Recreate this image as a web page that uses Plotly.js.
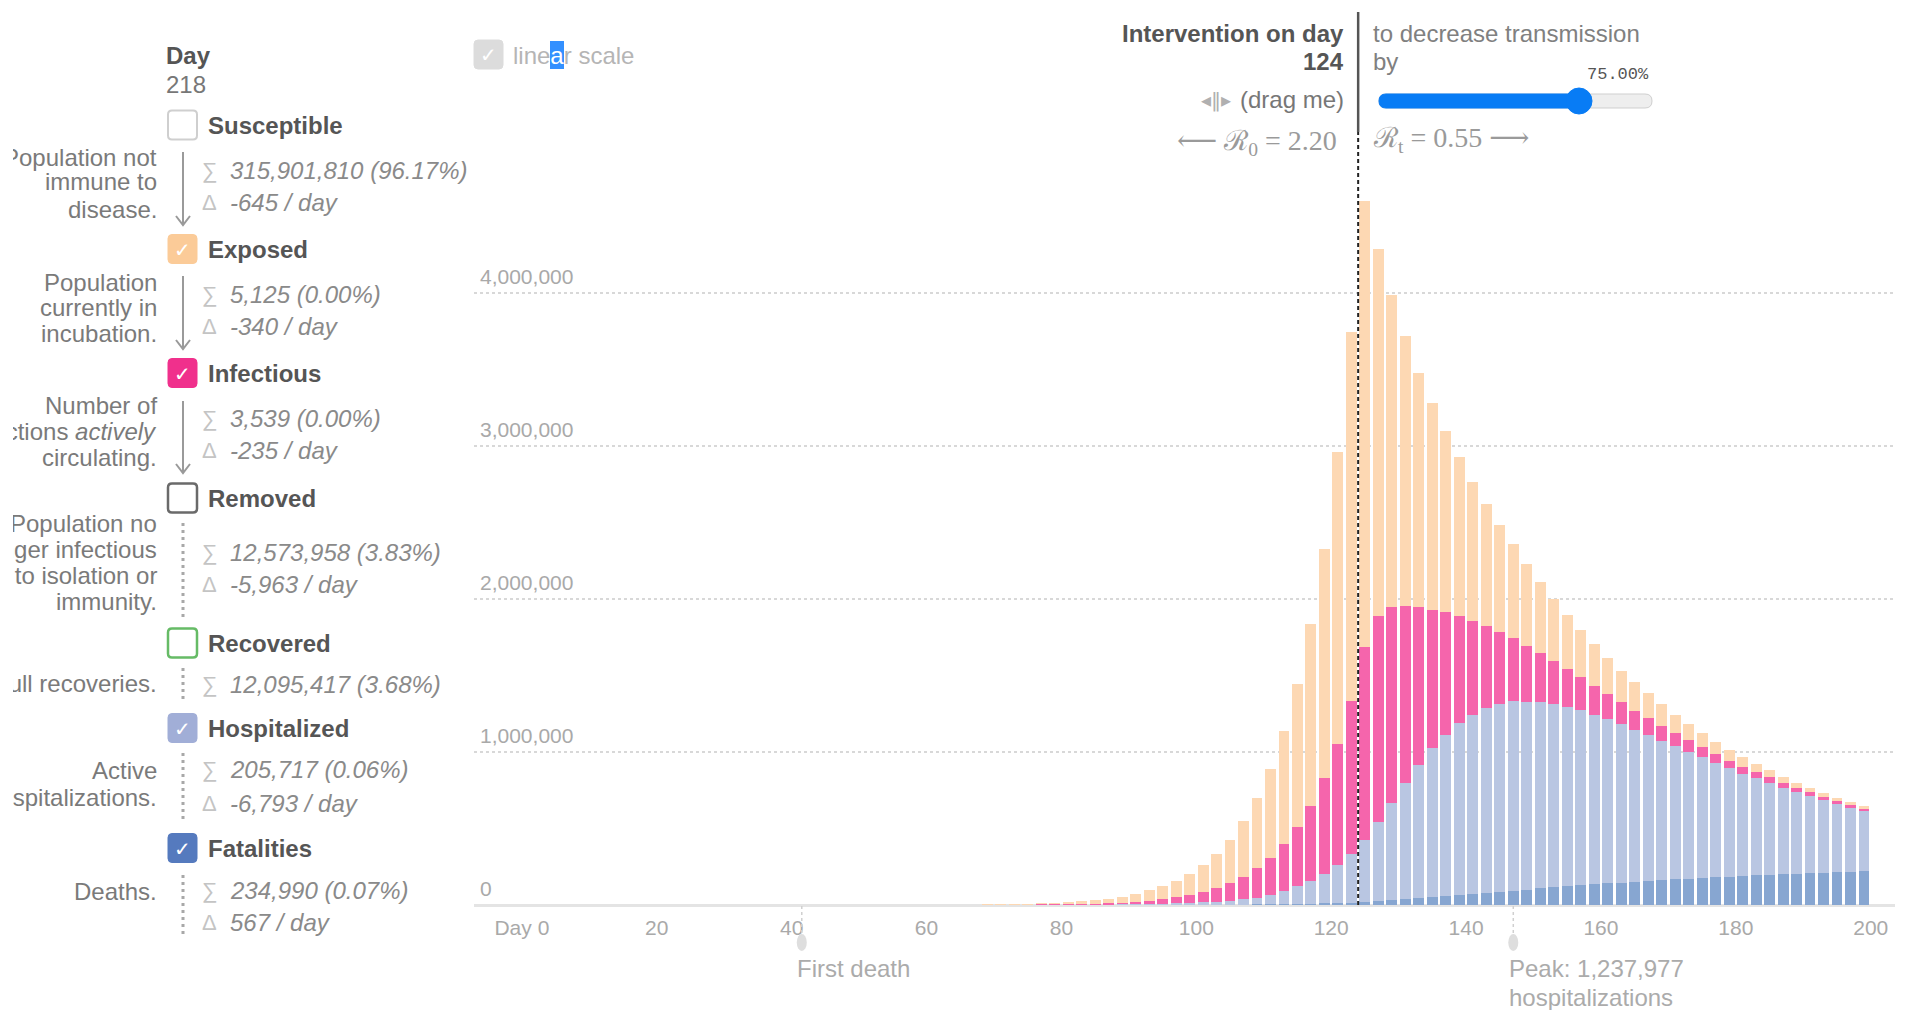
<!DOCTYPE html>
<html><head><meta charset="utf-8">
<script src="https://cdn.plot.ly/plotly-3.0.1.min.js"></script>
<style>
html,body{margin:0;padding:0;background:#fff;overflow:hidden;}
#chart{position:absolute;left:0;top:0;width:1905px;height:1010px;}
#edge{position:absolute;left:0;top:0;width:13px;height:1010px;background:#fff;pointer-events:none;}
</style></head><body>
<div id="chart"></div><div id="edge"></div>
<script>
// ---------------- data ----------------
const days = [1,3,5,7,9,11,13,15,17,19,21,23,25,27,29,31,33,35,37,39,41,43,45,47,49,51,53,55,57,59,61,63,
  65,67,69,71,73,75,77,79,81,83,85,87,89,91,93,95,97,99,101,103,105,107,109,111,113,115,117,119,121,123,
  125,127,129,131,133,135,137,139,141,143,145,147,149,151,153,155,157,159,161,163,165,167,169,171,173,175,
  177,179,181,183,185,187,189,191,193,195,197,199];

const exposed = [1,1,1,1,1,1,2,2,3,4,5,6,8,11,14,18,23,30,39,50,65,85,110,143,185,240,315,410,530,690,900,1160,
  1510,1960,2550,3300,4300,5600,7200,9400,12200,15800,
  20500,27500,37000,51000,66000,85000,107000,138000,175000,223000,281000,362000,458000,582000,742000,938000,1190000,1500000,1908000,2410000,
  2914000,2393000,2039000,1765000,1534000,1349000,1180000,1034000,908000,798000,698000,613000,536000,465000,407000,353000,310000,273000,
  238000,207000,184000,164000,139000,119000,106000,93000,82000,71000,61000,54000,47000,41000,35000,30000,26000,22000,19000,16000];

const infectious = [1,1,1,1,1,1,1,1,1,2,2,2,3,4,5,7,9,11,15,19,25,32,42,54,70,92,120,155,200,260,340,440,
  570,740,960,1250,1600,2100,2700,3500,4600,6200,
  7300,9600,12300,16200,22800,30000,40500,52500,68500,89000,118000,148000,191000,240000,306000,384000,489000,625000,789000,998000,
  1260000,1349000,1279000,1158000,1030000,907000,803000,704000,614000,537000,472000,415000,366000,318000,279000,246000,214000,191000,
  163000,143000,124000,109000,99000,86000,76000,65000,56000,50000,45000,40000,35000,31000,27000,24000,21000,19000,17000,15000];

const hospitalized = [0,0,0,0,0,0,0,0,0,0,0,0,0,1,1,1,2,2,3,4,5,7,9,12,16,21,27,35,45,59,77,100,
  130,170,220,285,370,480,620,800,1050,1400,
  1900,2600,3400,4400,5700,7300,9500,12300,15800,20500,26500,34500,45000,62000,85000,118000,150000,193000,250000,320000,
  407000,518000,636000,760000,872000,973000,1055000,1123000,1173000,1208000,1227000,1237977,1228000,1219000,1199000,1175000,1145000,1107000,
  1073000,1035000,994000,952000,911000,869000,827000,787000,747000,708000,669000,633000,601000,565000,534000,505000,476000,445000,420000,394000];

const fatalities = [0,0,0,0,0,0,0,0,0,0,0,0,0,0,0,0,0,0,0,0,1,1,2,2,3,4,5,6,8,10,13,16,
  20,26,33,42,53,67,85,108,137,172,
  215,270,340,430,540,680,860,1080,1360,1710,2150,2700,3400,4250,5300,6600,8200,10100,12400,15200,
  19000,25000,31000,37000,44000,51000,58000,65000,72000,80000,87000,94000,101000,108000,115000,122000,128000,135000,
  141000,147000,153000,158000,163000,168000,173000,178000,182000,186000,190000,194000,198000,201000,204000,207000,210000,213000,216000,219000];

const xTickVals = [0,20,40,60,80,100,120,140,160,180,200];
const xTickText = ['Day 0','20','40','60','80','100','120','140','160','180','200'];
const yTickVals = [0,1000000,2000000,3000000,4000000];
const yTickText = ['0','1,000,000','2,000,000','3,000,000','4,000,000'];

const interventionDay = 124;
const firstDeathDay = 41.5;
const peakDay = 147;
const peakHosp = 1237977;
const shownDay = 218;
const R0 = '2.20', Rt = '0.55', decreasePct = '75.00%';

const compNames = ['Susceptible','Exposed','Infectious','Removed','Recovered','Hospitalized','Fatalities'];
const compChecked = [false,true,true,false,false,true,true];
const compDesc = [['Population not','immune to','disease.'],['Population','currently in','incubation.'],
  ['Number of','infections <i>actively</i>','circulating.'],['Population no','longer infectious','due to isolation or','immunity.'],
  ['Full recoveries.'],['Active','hospitalizations.'],['Deaths.']];
const compTotal = ['315,901,810 (96.17%)','5,125 (0.00%)','3,539 (0.00%)','12,573,958 (3.83%)','12,095,417 (3.68%)','205,717 (0.06%)','234,990 (0.07%)'];
const compDelta = ['-645 / day','-340 / day','-235 / day','-5,963 / day',null,'-6,793 / day','567 / day'];

// ---------------- geometry helpers ----------------
const WIDTH=1905, HEIGHT=1010, ML=474, MR=10, MT=132, MB=105;
const PW=WIDTH-ML-MR, PH=HEIGHT-MT-MB;
const X = px => (px-ML)/PW;
const Y = py => (HEIGHT-MB-py)/PH;
const FONT = 'Liberation Sans, Arial, Helvetica, sans-serif';
const SERIF = 'Liberation Serif, DejaVu Serif, serif';

const annotations = [];
function txt(px, py, text, o={}) {
  annotations.push({xref:'paper', yref:'paper', x:X(px), y:Y(py), text:text, showarrow:false,
    xanchor:o.anchor||'left', yanchor:'middle', borderpad:0,
    font:{family:o.family||FONT, size:o.size||24, color:o.color||'#777', weight:o.weight||'normal'}});
}
function rrect(x1,y1,x2,y2,r){
  const p=(x,y)=>X(x)+','+Y(y);
  return 'M'+p(x1+r,y1)+' L'+p(x2-r,y1)+' Q'+p(x2,y1)+' '+p(x2,y1+r)+' L'+p(x2,y2-r)+' Q'+p(x2,y2)+' '+p(x2-r,y2)+
    ' L'+p(x1+r,y2)+' Q'+p(x1,y2)+' '+p(x1,y2-r)+' L'+p(x1,y1+r)+' Q'+p(x1,y1)+' '+p(x1+r,y1)+' Z';
}
const shapes = [];
const pline = (x0,y0,x1,y1,line) => shapes.push({type:'line', xref:'paper', yref:'paper', x0:X(x0), y0:Y(y0), x1:X(x1), y1:Y(y1), line:line});

// ---------------- chart marks ----------------
const COLORS = {exp:'#fdd8b3', inf:'#f565ac', hosp:'#b9c6e2', dead:'#87a6d1'};
const barW = 1.62;
const traces = [
  {type:'bar', x:days, y:fatalities, name:'Fatalities', marker:{color:COLORS.dead}, width:barW},
  {type:'bar', x:days, y:hospitalized, name:'Hospitalized', marker:{color:COLORS.hosp}, width:barW},
  {type:'bar', x:days, y:infectious, name:'Infectious', marker:{color:COLORS.inf}, width:barW},
  {type:'bar', x:days, y:exposed, name:'Exposed', marker:{color:COLORS.exp}, width:barW}
];

// intervention line
shapes.push({type:'line', xref:'x', yref:'paper', x0:interventionDay, x1:interventionDay, y0:0, y1:1, layer:'above', line:{color:'#222', width:2, dash:'4px,3px'}});
shapes.push({type:'line', xref:'x', yref:'paper', x0:interventionDay, x1:interventionDay, y0:1, y1:Y(12), layer:'above', line:{color:'#555', width:2.5}});

// first death / peak markers
[firstDeathDay, peakDay].forEach(d => {
  shapes.push({type:'line', xref:'x', yref:'paper', x0:d, x1:d, y0:Y(906), y1:Y(936), line:{color:'#d0d0d0', width:1.5, dash:'3px,3px'}});
  shapes.push({type:'circle', xref:'x', xsizemode:'pixel', xanchor:d, x0:-5, x1:5, yref:'paper', y0:Y(951), y1:Y(934), fillcolor:'#dedede', line:{width:0}});
});
annotations.push({xref:'x', yref:'paper', x:firstDeathDay, xshift:-7, y:Y(968), text:'First death', showarrow:false, xanchor:'left', yanchor:'middle', font:{family:FONT, size:24, color:'#ababab'}});
annotations.push({xref:'x', yref:'paper', x:peakDay, xshift:-6, y:Y(968), text:'Peak: '+peakHosp.toLocaleString('en-US'), showarrow:false, xanchor:'left', yanchor:'middle', font:{family:FONT, size:24, color:'#ababab'}});
annotations.push({xref:'x', yref:'paper', x:peakDay, xshift:-6, y:Y(997), text:'hospitalizations', showarrow:false, xanchor:'left', yanchor:'middle', font:{family:FONT, size:24, color:'#ababab'}});

// ---------------- left panel ----------------
txt(165, 55, 'Day', {color:'#555', weight:'bold'});
txt(165, 84, String(shownDay), {color:'#777'});

const boxY = [125,249,373,498,643,728,848];
const boxFill = ['#ffffff','#fbcb98','#f0308c','#ffffff','#ffffff','#a1aed7','#557abe'];
const boxLine = ['#cfcfcf','#fbcb98','#f0308c','#6a6a6a','#66bb66','#a1aed7','#557abe'];
const boxLW = [2,1,1,2.5,2.5,1,1];
const descY = [[157,182,209],[282,307,333],[406,432,458],[523,549,575,601],[683],[770,797],[891]];
const statY = [[170,202],[294,326],[419,450],[552,584],[684],[769,803],[890,922]];

compNames.forEach((name,i) => {
  const cy = boxY[i];
  shapes.push({type:'path', xref:'paper', yref:'paper', path:rrect(168,cy-14.5,197,cy+14.5,4), fillcolor:boxFill[i], line:{color:boxLine[i], width:boxLW[i]}});
  if (compChecked[i]) txt(182.5, cy+1, '✓', {anchor:'center', color:'#ffffff', size:20, family:'DejaVu Sans'});
  txt(207, cy, name, {color:'#555', weight:'bold'});
  compDesc[i].forEach((line,j) => txt(158, descY[i][j], line, {anchor:'right', color:'#7a7a7a'}));
  txt(201, statY[i][0], '∑', {color:'#c4c4c4', size:22});
  txt(229, statY[i][0], '<i>'+compTotal[i]+'</i>', {color:'#8a8a8a'});
  if (compDelta[i]) {
    txt(201, statY[i][1], 'Δ', {color:'#c4c4c4', size:22});
    txt(229, statY[i][1], '<i>'+compDelta[i]+'</i>', {color:'#8a8a8a'});
  }
});
// solid arrows
[[152,225],[276,349],[401,473]].forEach(([a,b]) => {
  pline(183,a,183,b-1,{color:'#9a9a9a', width:2});
  shapes.push({type:'path', xref:'paper', yref:'paper', path:'M'+X(176)+','+Y(b-9)+' L'+X(183)+','+Y(b)+' L'+X(190)+','+Y(b-9), line:{color:'#9a9a9a', width:2}});
});
// dotted connectors
[[523,617],[668,702],[753,823],[875,935]].forEach(([a,b]) => pline(183,a,183,b,{color:'#a8a8a8', width:3, dash:'3px,4px'}));

// ---------------- top controls ----------------
shapes.push({type:'path', xref:'paper', yref:'paper', path:rrect(474,40,503,69,4), fillcolor:'#dcdcdc', line:{color:'#dcdcdc', width:1}});
txt(488.5, 55, '✓', {anchor:'center', color:'#ffffff', size:20, family:'DejaVu Sans'});
shapes.push({type:'rect', xref:'paper', yref:'paper', x0:X(550), x1:X(564), y0:Y(41), y1:Y(69), fillcolor:'#3390ff', line:{width:0}, layer:'above'});
txt(512, 55, 'line<span style="color:#ffffff">a</span>r scale', {color:'#b5b5b5'});

txt(1345, 33, 'Intervention on day', {anchor:'right', color:'#555', weight:'bold'});
txt(1345, 62, String(interventionDay), {anchor:'right', color:'#555', weight:'bold'});
txt(1345, 100, '(drag me)', {anchor:'right', color:'#777'});
txt(1232, 100, '◂‖▸', {anchor:'right', color:'#b0b0b0', size:20, family:'DejaVu Sans'});
txt(1338, 143, '⟵ ℛ<sub>0</sub> = '+R0, {anchor:'right', color:'#9a9a9a', size:28, family:SERIF});

txt(1372, 33, 'to decrease transmission', {color:'#808080'});
txt(1372, 61, 'by', {color:'#808080'});
txt(1372, 139, 'ℛ<sub>t</sub> = '+Rt+' ⟶', {color:'#9a9a9a', size:28, family:SERIF});

// slider
shapes.push({type:'path', xref:'paper', yref:'paper', path:rrect(1379,94,1652,108,7), fillcolor:'#eeeeee', line:{color:'#cfcfcf', width:1}});
shapes.push({type:'path', xref:'paper', yref:'paper', path:rrect(1379,94,1585,108,7), fillcolor:'#087cf5', line:{color:'#087cf5', width:1}});
shapes.push({type:'circle', xref:'paper', yref:'paper', x0:X(1566), x1:X(1592), y0:Y(88), y1:Y(114), fillcolor:'#087cf5', line:{color:'#087cf5', width:1}});
txt(1618, 75, decreasePct, {anchor:'center', color:'#555', size:17, family:'Liberation Mono, DejaVu Sans Mono, monospace'});

// ---------------- layout ----------------
const layout = {
  width:WIDTH, height:HEIGHT, margin:{l:ML, r:MR, t:MT, b:MB, pad:0},
  paper_bgcolor:'#ffffff', plot_bgcolor:'#ffffff', barmode:'stack', bargap:0, showlegend:false,
  font:{family:FONT}, hovermode:false,
  xaxis:{range:[-7.1,203.6], tickvals:xTickVals, ticktext:xTickText, showgrid:false, zeroline:false, showline:false,
    ticks:'', tickfont:{size:21, color:'#a9a9a9', family:FONT}, ticklabelstandoff:8, fixedrange:true},
  yaxis:{range:[0,5.052e6], tickvals:yTickVals, ticktext:yTickText, showgrid:true, gridcolor:'#d8d8d8', gridwidth:2, griddash:'dot',
    zeroline:true, zerolinecolor:'#e4e4e4', zerolinewidth:3, showline:false, ticks:'',
    ticklabelposition:'inside', ticklabelshift:-16, ticklabelstandoff:3, ticklabeloverflow:'allow',
    tickfont:{size:21, color:'#a9a9a9', family:FONT}, fixedrange:true},
  shapes:shapes, annotations:annotations
};
Plotly.newPlot('chart', traces, layout, {staticPlot:true, displayModeBar:false});
</script>
</body></html>
